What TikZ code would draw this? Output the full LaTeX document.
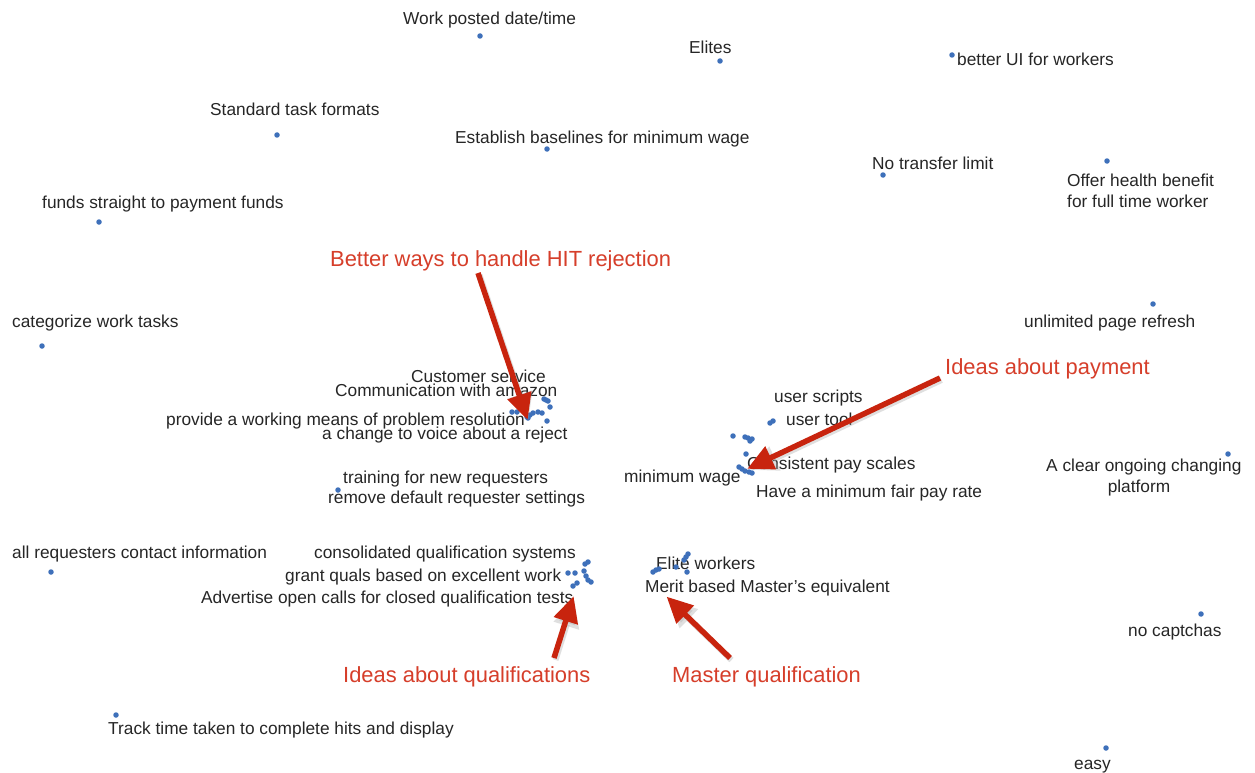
\documentclass[tikz,border=0pt]{standalone}
\usepackage{fontspec}
\setmainfont{Liberation Sans}
\usetikzlibrary{arrows.meta}
\definecolor{dotblue}{RGB}{62,112,186}
\definecolor{labtext}{RGB}{38,38,38}
\definecolor{redlab}{RGB}{214,62,42}
\definecolor{redarrow}{RGB}{200,36,14}
\tikzset{
  pt/.style={circle,fill=dotblue,inner sep=0pt,minimum size=5.5pt},
  lab/.style={anchor=base west,inner sep=0pt,text=labtext,font=\fontsize{17.3}{20}\selectfont},
  labc/.style={anchor=base,inner sep=0pt,text=labtext,font=\fontsize{17.3}{20}\selectfont},
  redtxt/.style={anchor=base west,inner sep=0pt,text=redlab,font=\fontsize{21.9}{24}\selectfont},
  callout/.style={draw=redarrow,line width=5.5pt,-{Triangle[length=26pt,width=24pt]},shorten >=-2pt},
  shadowarrow/.style={draw=black!35,opacity=0.35,line width=6pt,-{Triangle[length=27pt,width=25pt]}}
}
\begin{document}
\begin{tikzpicture}[x=1pt,y=-1pt]
\useasboundingbox (0,0) rectangle (1255,773);
\fill[white] (0,0) rectangle (1255,773);

% isolated labels and dots
\node[lab] (t1) at (403,25) {Work posted date/time};
\node[pt] (d1) at (480,36) {};
\node[lab] (t2) at (689,54) {Elites};
\node[pt] (d2) at (720,61) {};
\node[lab] (t3) at (957,66) {better UI for workers};
\node[pt] (d3) at (952,55) {};
\node[lab] (t4) at (210,116) {Standard task formats};
\node[pt] (d4) at (277,135) {};
\node[lab] (t5) at (455,143) {Establish baselines for minimum wage};
\node[pt] (d5) at (547,149) {};
\node[lab] (t6) at (872,169) {No transfer limit};
\node[pt] (d6) at (883,175) {};
\node[lab] (t7a) at (1067,186) {Offer health benefit};
\node[lab] (t7b) at (1067,207) {for full time worker};
\node[pt] (d7) at (1107,161) {};
\node[lab] (t8) at (42,208) {funds straight to payment funds};
\node[pt] (d8) at (99,222) {};
\node[lab] (t9) at (12,327) {categorize work tasks};
\node[pt] (d9) at (42,346) {};
\node[lab] (t10) at (1024,327) {unlimited page refresh};
\node[pt] (d10) at (1153,304) {};

% rejection cluster
\node[lab] (t11) at (411,382) {Customer service};
\node[lab] (t12) at (335,396) {Communication with amazon};
\node[lab] (t13) at (166,425) {provide a working means of problem resolution};
\node[lab] (t14) at (322,439) {a change to voice about a reject};
\foreach \x/\y [count=\i] in {512/412,517/412,527/417,530/415,533/413,538/412,542/413,544/399,546/400,548/401,547/421,550/407,528/418}
  \node[pt] (r\i) at (\x,\y) {};

% payment cluster
\node[lab] (t15) at (774,402) {user scripts};
\node[lab] (t16) at (786,425) {user tool};
\node[lab] (t17) at (747,469) {Consistent pay scales};
\node[lab] (t18) at (624,482) {minimum wage};
\node[lab] (t19) at (756,497) {Have a minimum fair pay rate};
\foreach \x/\y [count=\i] in {770/423,773/421,733/436,745/437,748/438,752/439,750/441,746/454,739/467,742/469,745/471,749/472,752/473}
  \node[pt] (p\i) at (\x,\y) {};

\node[lab] (t20a) at (1046,471) {A clear ongoing changing};
\node[labc] (t20b) at (1139,492) {platform};
\node[pt] (d20) at (1228,454) {};

\node[lab] (t21) at (343,483) {training for new requesters};
\node[lab] (t22) at (328,503) {remove default requester settings};
\node[pt] (d22) at (338,490) {};

\node[lab] (t23) at (12,558) {all requesters contact information};
\node[pt] (d23) at (51,572) {};

% qualification cluster
\node[lab] (t24) at (314,558) {consolidated qualification systems};
\node[lab] (t25) at (285,581) {grant quals based on excellent work};
\node[lab] (t26) at (201,603) {Advertise open calls for closed qualification tests};
\foreach \x/\y [count=\i] in {588/562,585/564,568/573,575/573,584/571,586/576,588/580,591/582,577/583,573/586}
  \node[pt] (q\i) at (\x,\y) {};

% master cluster
\node[lab] (t27) at (656,569) {Elite workers};
\node[lab] (t28) at (645,592) {Merit based Master’s equivalent};
\foreach \x/\y [count=\i] in {653/572,656/570,659/569,688/554,686/557,684/560,676/567,687/572}
  \node[pt] (m\i) at (\x,\y) {};

\node[lab] (t29) at (108,734) {Track time taken to complete hits and display};
\node[pt] (d29) at (116,715) {};
\node[lab] (t30) at (1128,636) {no captchas};
\node[pt] (d30) at (1201,614) {};
\node[lab] (t31) at (1074,769) {easy};
\node[pt] (d31) at (1106,748) {};

% red callouts
\node[redtxt] (c1) at (330,266) {Better ways to handle HIT rejection};
\node[redtxt] (c2) at (945,374) {Ideas about payment};
\node[redtxt] (c3) at (343,682) {Ideas about qualifications};
\node[redtxt] (c4) at (672,682) {Master qualification};

\coordinate (s1) at (478,273);
\coordinate (e1) at (527,418);
\coordinate (s2) at (940,378);
\coordinate (e2) at (749,468);
\coordinate (s3) at (554,658);
\coordinate (e3) at (573,598);
\coordinate (s4) at (730,658);
\coordinate (e4) at (668,598);

\foreach \s/\e in {s1/e1,s2/e2,s3/e3,s4/e4}
  \draw[shadowarrow] ([shift={(1.5,2)}]\s) -- ([shift={(1.5,2)}]\e);
\foreach \s/\e in {s1/e1,s2/e2,s3/e3,s4/e4}
  \draw[callout] (\s) -- (\e);
\end{tikzpicture}
\end{document}
